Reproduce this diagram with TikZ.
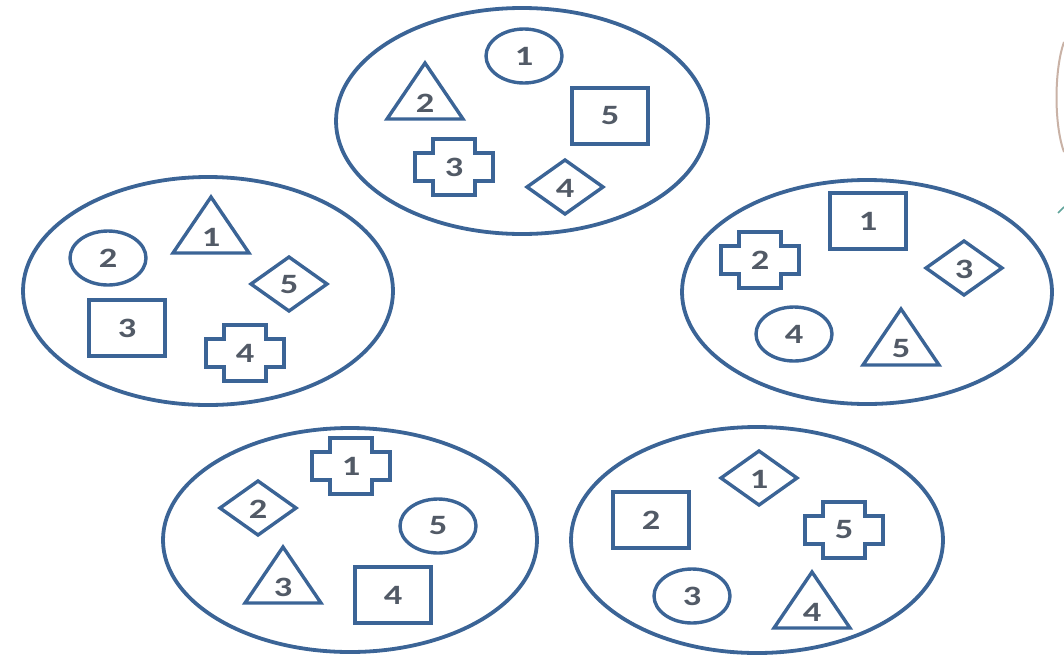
\documentclass[tikz,border=0pt]{standalone}
\usepackage{fontspec}
\setmainfont{Carlito}
\usepackage{xcolor}
\definecolor{linebl}{HTML}{3B6496}
\definecolor{numgray}{HTML}{525A66}
\definecolor{edgebrown}{HTML}{C9B2A6}
\definecolor{edgeteal}{HTML}{5FA39A}
\usetikzlibrary{shapes.geometric}

\begin{document}
\begin{tikzpicture}[
  x=1pt, y=-1pt,
  group/.style={draw=linebl,line width=3.8pt,ellipse,minimum width=372pt,minimum height=226pt,inner sep=0pt},
  outline/.style={draw=linebl,line width=3.4pt,line join=miter},
  num/.style={font=\fontsize{28}{28}\selectfont\bfseries,text=numgray,inner sep=0pt,xscale=1.3,transform shape},
  pics/oval/.style={code={
    \draw[outline] (0,0) ellipse [x radius=38,y radius=27];
    \node[num] (-n) at (0,0) {#1};}},
  pics/sq/.style={code={
    \draw[outline] (-38,-28) rectangle (38,28);
    \node[num] (-n) at (0,0) {#1};}},
  pics/dia/.style={code={
    \draw[outline] (0,-27) -- (38,0) -- (0,27) -- (-38,0) -- cycle;
    \node[num] (-n) at (0,1) {#1};}},
  pics/tri/.style={code={
    \draw[outline] (0,-28) -- (38,28) -- (-38,28) -- cycle;
    \node[num] (-n) at (0,12) {#1};}},
  pics/cross/.style={code={
    \draw[outline] (-21,-28) -- (21,-28) -- (21,-14) -- (39,-14) -- (39,14) -- (21,14)
      -- (21,28) -- (-21,28) -- (-21,14) -- (-39,14) -- (-39,-14) -- (-21,-14) -- cycle;
    \node[num] (-n) at (0,0) {#1};}}
]
  \useasboundingbox (0,0) rectangle (1064,656);

  % Groups
  \node[group] (top) at (522,121) {};
  \node[group,minimum width=370pt,minimum height=228pt] (left) at (208,291) {};
  \node[group,minimum width=370pt,minimum height=224pt] (right) at (867,292) {};
  \node[group,minimum width=374pt,minimum height=224pt] (botl) at (350,540) {};
  \node[group] (botr) at (757,540) {};

  % Top group
  \pic (t1) at (524,56) {oval=1};
  \pic (t2) at (425,91) {tri=2};
  \pic (t5) at (610,116) {sq=5};
  \pic (t3) at (454,167) {cross=3};
  \pic (t4) at (565,187) {dia=4};

  % Left group
  \pic (l2) at (108,258) {oval=2};
  \pic (l1) at (211,225) {tri=1};
  \pic (l5) at (289,284) {dia=5};
  \pic (l3) at (127,328) {sq=3};
  \pic (l4) at (245,353) {cross=4};

  % Right group
  \pic (r1) at (868,221) {sq=1};
  \pic (r2) at (760,260) {cross=2};
  \pic (r3) at (964,268) {dia=3};
  \pic (r4) at (794,334) {oval=4};
  \pic (r5) at (901,337) {tri=5};

  % Bottom left group
  \pic (bl1) at (351,466) {cross=1};
  \pic (bl2) at (258,508) {dia=2};
  \pic (bl5) at (438,526) {oval=5};
  \pic (bl3) at (283,575) {tri=3};
  \pic (bl4) at (393,595) {sq=4};

  % Bottom right group
  \pic (br1) at (759,478) {dia=1};
  \pic (br2) at (651,520) {sq=2};
  \pic (br5) at (844,530) {cross=5};
  \pic (br3) at (692,596) {oval=3};
  \pic (br4) at (812,600) {tri=4};

  % cut-off bits at the right edge
  \draw[edgebrown,line width=2pt] (1064,42) .. controls (1054,70) and (1054,125) .. (1064,152);
  \draw[edgeteal,line width=1.5pt] (1058,213) -- (1064,207);
\end{tikzpicture}
\end{document}
